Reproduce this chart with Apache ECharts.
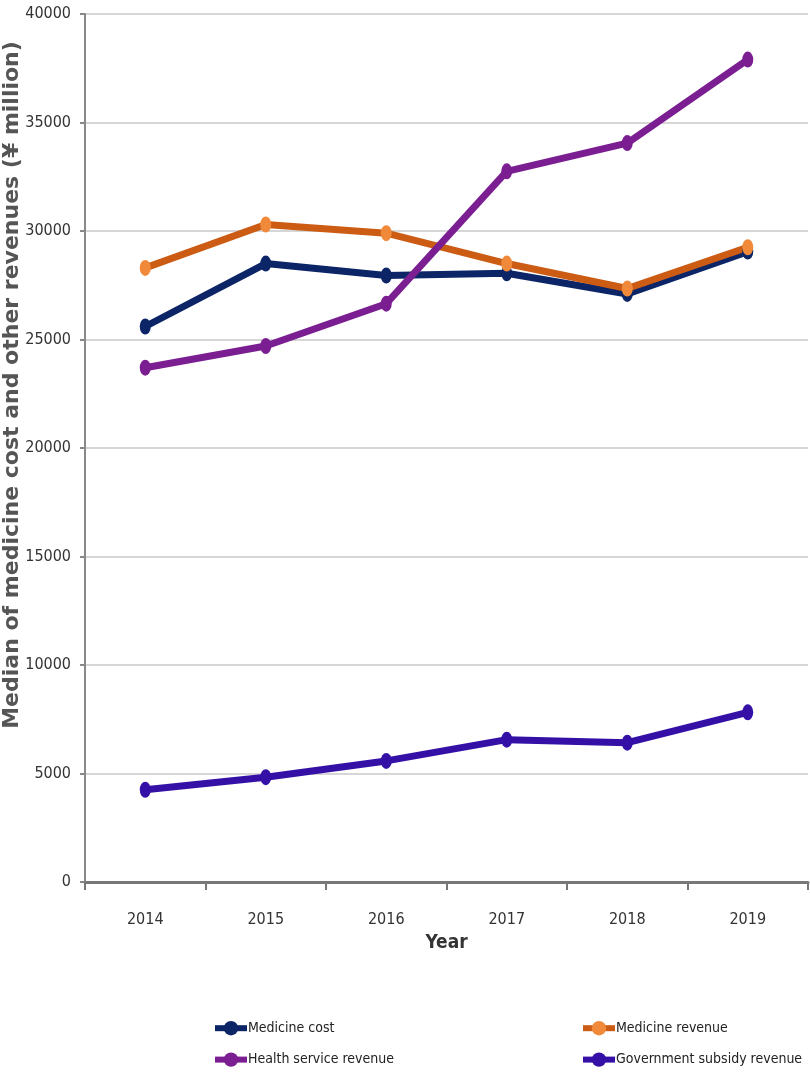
<!DOCTYPE html>
<html>
<head>
<meta charset="utf-8">
<script src="https://cdn.jsdelivr.net/npm/echarts@6/dist/echarts.min.js"></script>
<style>
    html, body { margin: 0; padding: 0; background: #fff; }
    #chart { width: 810px; height: 1089px; }
</style>
</head>
<body>
<div id="chart"></div>
<script>
const chart = echarts.init(document.getElementById('chart'));

// data
const years = ['2014', '2015', '2016', '2017', '2018', '2019'];
const medicine_cost = [25600, 28500, 27950, 28050, 27100, 29050];
const medicine_revenue = [28300, 30300, 29900, 28500, 27350, 29250];
const health_service = [23700, 24700, 26650, 32750, 34050, 37900];
const gov_subsidy = [4250, 4830, 5580, 6560, 6420, 7820];

const narrow = '"Liberation Sans Narrow", "DejaVu Sans Condensed", "Liberation Sans", sans-serif';

function makeLine(name, data, lineColor, markColor) {
    return {
        name: name,
        type: 'line',
        data: data,
        symbol: 'circle',
        symbolSize: [11, 16],
        lineStyle: { color: lineColor, width: 7 },
        itemStyle: { color: markColor, borderWidth: 0 },
        color: lineColor
    };
}

const series = [
    makeLine('Medicine cost', medicine_cost, '#0c2566', '#0c2566'),
    makeLine('Medicine revenue', medicine_revenue, '#cc5c14', '#f08a3a'),
    makeLine('Health service revenue', health_service, '#7a1e92', '#7a1e92'),
    makeLine('Government subsidy revenue', gov_subsidy, '#3510a6', '#3510a6')
];

const legendBase = {
    orient: 'vertical',
    top: 1021,
    padding: 0,
    itemGap: 17,
    itemWidth: 32,
    itemHeight: 18,
    lineStyle: { width: 6 },
    textStyle: { fontFamily: narrow, fontSize: 14, color: '#222', padding: [0, 0, 0, -4] }
};

chart.setOption({
    animation: false,
    backgroundColor: '#fff',
    grid: { left: 85, right: 2, top: 14, bottom: 207, outerBoundsMode: 'none', containLabel: false },
    legend: [
        Object.assign({}, legendBase, { left: 212, data: ['Medicine cost', 'Health service revenue'] }),
        Object.assign({}, legendBase, { left: 580, data: ['Medicine revenue', 'Government subsidy revenue'] })
    ],
    xAxis: {
        type: 'category',
        data: years,
        boundaryGap: true,
        name: 'Year',
        nameLocation: 'middle',
        nameGap: 52,
        nameMoveOverlap: false,
        nameTextStyle: { fontFamily: narrow, fontSize: 19, fontWeight: 'bold', color: '#333' },
        axisLine: { lineStyle: { color: '#777', width: 3 } },
        axisTick: { show: true, length: 8, lineStyle: { color: '#777', width: 2 } },
        axisLabel: { fontFamily: narrow, fontSize: 16, color: '#333', margin: 30 }
    },
    yAxis: {
        type: 'value',
        min: 0,
        max: 40000,
        interval: 5000,
        name: 'Median of medicine cost and other revenues (\u00a5 million)',
        nameLocation: 'middle',
        nameGap: 62,
        nameMoveOverlap: false,
        nameTextStyle: {
            fontFamily: '"DejaVu Sans", Verdana, sans-serif', fontSize: 22, fontWeight: 'bold', color: '#555',
            padding: [0, 0, 0, 126]
        },
        axisLine: { show: true, lineStyle: { color: '#888', width: 2 } },
        axisTick: { show: true, length: 5, lineStyle: { color: '#888', width: 2 } },
        axisLabel: { fontFamily: narrow, fontSize: 16, color: '#333', margin: 14, formatter: v => String(v) },
        splitLine: { lineStyle: { color: '#d6d6d6', width: 2 } }
    },
    series: series
});
</script>
</body>
</html>
